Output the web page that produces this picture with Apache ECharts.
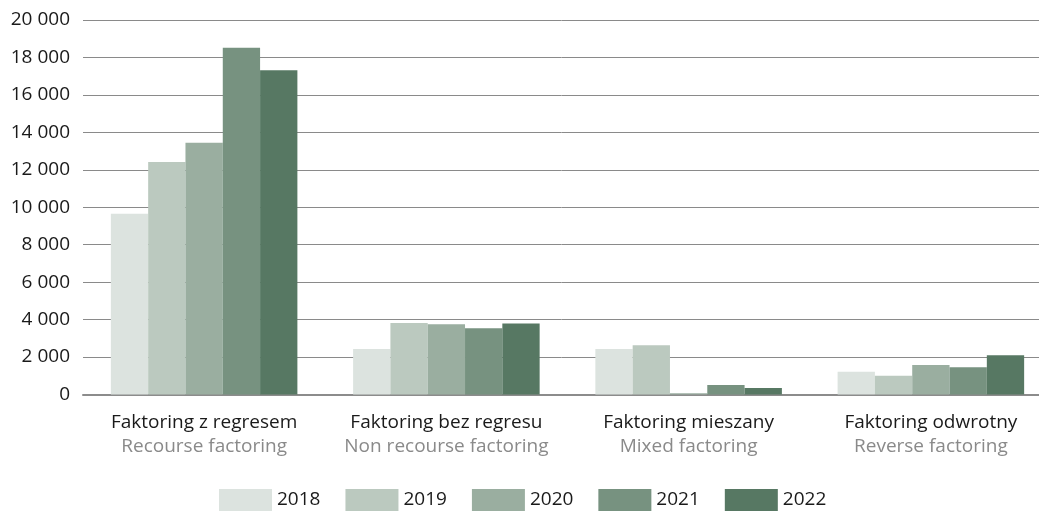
<!DOCTYPE html>
<html>
<head>
<meta charset="utf-8">
<script src="https://cdn.jsdelivr.net/npm/echarts@6/dist/echarts.min.js"></script>
<style>
  html, body { margin: 0; padding: 0; background: #fff; }
  #chart { width: 1039px; height: 513px; }
</style>
</head>
<body>
<div id="chart"></div>
<script>
// Factoring turnover by type, 2018–2022
const categoriesPl = ['Faktoring z regresem', 'Faktoring bez regresu', 'Faktoring mieszany', 'Faktoring odwrotny'];
const categoriesEn = ['Recourse factoring', 'Non recourse factoring', 'Mixed factoring', 'Reverse factoring'];
const years = ['2018', '2019', '2020', '2021', '2022'];

const values2018 = [9650, 2430, 2430, 1210];
const values2019 = [12410, 3820, 2630, 1000];
const values2020 = [13440, 3750, 70, 1570];
const values2021 = [18520, 3540, 510, 1460];
const values2022 = [17320, 3790, 350, 2100];

const yTicks = { min: 0, max: 20000, interval: 2000 };
const palette = ['#dce3df', '#bbc9bf', '#9aaea0', '#779280', '#577863'];

const seriesValues = [values2018, values2019, values2020, values2021, values2022];
const font = '"Open Sans", "Noto Sans", sans-serif';

const chart = echarts.init(document.getElementById('chart'), null, { renderer: 'canvas' });

chart.setOption({
  animation: false,
  backgroundColor: '#ffffff',
  color: palette,
  grid: {
    left: 83, top: 20, width: 969, height: 374.5,
    containLabel: false,
    outerBoundsMode: 'none'
  },
  legend: {
    left: 219,
    top: 489,
    padding: 0,
    itemWidth: 53,
    itemHeight: 22,
    itemGap: 25,
    icon: 'rect',
    textStyle: { fontFamily: font, fontSize: 19, color: '#1a1a1a' },
    data: years
  },
  xAxis: {
    type: 'category',
    data: categoriesPl.map((pl, i) => pl + '\n' + categoriesEn[i]),
    axisLine: { show: true, lineStyle: { color: '#8c8c8c', width: 2 } },
    axisTick: { show: false },
    axisLabel: {
      margin: 16,
      interval: 0,
      formatter: function (v) {
        const parts = v.split('\n');
        return '{pl|' + parts[0] + '}\n{en|' + parts[1] + '}';
      },
      rich: {
        pl: { fontFamily: font, fontSize: 19, color: '#1a1a1a', lineHeight: 24, align: 'center' },
        en: { fontFamily: font, fontSize: 19, color: '#8a8a8a', lineHeight: 24, align: 'center' }
      }
    }
  },
  yAxis: {
    type: 'value',
    min: yTicks.min,
    max: yTicks.max,
    interval: yTicks.interval,
    axisLine: { show: false },
    axisTick: { show: false },
    splitLine: { lineStyle: { color: '#8a8a8a', width: 1 } },
    axisLabel: {
      margin: 13,
      fontFamily: font,
      fontSize: 19,
      color: '#1a1a1a',
      formatter: function (v) {
        return String(v).replace(/\B(?=(\d{3})+(?!\d))/g, ' ');
      }
    }
  },
  series: years.map((y, i) => ({
    name: y,
    type: 'bar',
    data: seriesValues[i],
    barGap: '0%',
    barCategoryGap: '23%',
    itemStyle: { color: palette[i] }
  }))
});
</script>
</body>
</html>
